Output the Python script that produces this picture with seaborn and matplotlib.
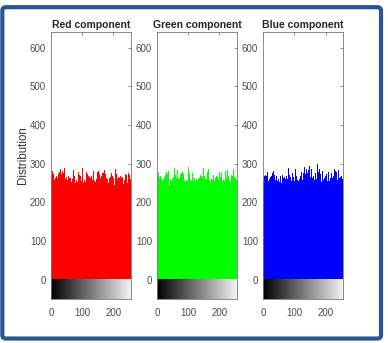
import matplotlib.pyplot as plt
import seaborn as sns
import numpy as np
import pandas as pd
from matplotlib.patches import FancyBboxPatch

# Histogram counts (256 intensity levels) per channel
red = [
    262, 271, 255, 268, 280, 259, 247, 266, 273, 261, 284, 258, 250, 270, 264, 277,
    256, 269, 243, 275, 262, 281, 254, 267, 272, 249, 263, 279, 258, 266, 285, 260,
    252, 274, 268, 257, 281, 263, 246, 270, 276, 259, 265, 288, 254, 268, 261, 273,
    249, 266, 279, 262, 257, 271, 283, 255, 268, 244, 273, 264, 278, 258, 262, 270,
    276, 253, 265, 280, 259, 248, 272, 267, 284, 261, 255, 269, 263, 277, 250, 266,
    271, 258, 286, 264, 252, 274, 268, 259, 279, 263, 247, 270, 275, 256, 267, 282,
    260, 254, 273, 266, 289, 258, 262, 271, 249, 276, 264, 257, 281, 268, 253, 270,
    265, 278, 251, 263, 274, 260, 287, 256, 268, 245, 272, 266, 279, 259, 263, 275,
    254, 269, 283, 261, 257, 273, 248, 266, 280, 262, 271, 255, 276, 264, 252, 285,
    267, 259, 274, 263, 278, 250, 269, 261, 282, 256, 266, 273, 248, 271, 264, 279,
    258, 267, 290, 262, 253, 275, 266, 260, 277, 251, 269, 284, 257, 264, 272, 246,
    270, 263, 279, 255, 268, 261, 286, 259, 250, 274, 267, 262, 281, 256, 265, 271,
    248, 276, 264, 258, 283, 269, 254, 272, 263, 278, 260, 245, 270, 266, 287, 257,
    263, 274, 252, 268, 279, 261, 256, 271, 265, 249, 282, 264, 258, 273, 267, 255,
    276, 262, 269, 251, 280, 266, 259, 272, 247, 263, 278, 257, 268, 260, 274, 253,
    265, 271, 258, 281, 262, 250, 269, 264, 277, 255, 261, 270, 249, 266, 259, 252,
]
green = [
    258, 266, 273, 251, 279, 262, 255, 270, 264, 283, 257, 268, 249, 275, 261, 272,
    267, 254, 281, 263, 259, 276, 248, 269, 265, 286, 256, 271, 262, 253, 278, 266,
    260, 274, 250, 268, 282, 257, 264, 271, 246, 277, 263, 259, 285, 268, 254, 270,
    275, 261, 256, 280, 265, 252, 273, 267, 289, 258, 263, 271, 249, 276, 262, 257,
    270, 283, 255, 266, 261, 278, 253, 269, 264, 287, 259, 272, 250, 267, 275, 262,
    256, 279, 268, 246, 273, 265, 260, 284, 257, 270, 263, 252, 281, 266, 258, 274,
    269, 255, 277, 262, 291, 259, 266, 251, 273, 268, 279, 257, 263, 285, 254, 270,
    262, 275, 298, 266, 258, 271, 249, 280, 264, 260, 276, 253, 268, 288, 261, 267,
    272, 256, 265, 282, 259, 248, 274, 266, 263, 279, 255, 270, 285, 260, 267, 252,
    277, 264, 258, 271, 289, 262, 254, 276, 268, 247, 273, 261, 283, 266, 259, 270,
    256, 278, 264, 251, 286, 269, 262, 274, 257, 280, 265, 253, 271, 292, 260, 267,
    275, 258, 263, 282, 249, 270, 266, 277, 255, 261, 288, 264, 272, 256, 268, 279,
    251, 265, 274, 260, 284, 257, 269, 263, 278, 248, 271, 266, 290, 259, 275, 262,
    267, 253, 280, 264, 270, 258, 286, 261, 255, 273, 266, 281, 250, 268, 263, 277,
    259, 284, 265, 272, 256, 269, 262, 291, 257, 274, 266, 252, 279, 263, 270, 282,
    261, 268, 275, 257, 264, 287, 259, 271, 266, 253, 278, 262, 269, 284, 258, 265,
]
blue = [
    263, 255, 272, 258, 267, 281, 252, 270, 261, 276, 249, 268, 264, 257, 279, 262,
    271, 254, 266, 283, 259, 247, 274, 265, 260, 278, 256, 269, 262, 251, 275, 267,
    258, 280, 264, 253, 271, 262, 286, 257, 266, 272, 248, 268, 261, 277, 255, 270,
    264, 259, 282, 266, 252, 274, 263, 269, 287, 258, 265, 250, 276, 262, 271, 256,
    280, 264, 257, 273, 266, 248, 278, 261, 269, 284, 255, 267, 262, 275, 259, 272,
    265, 289, 257, 263, 270, 252, 279, 266, 260, 274, 284, 256, 268, 262, 277, 291,
    258, 266, 273, 281, 255, 269, 264, 286, 260, 272, 250, 267, 278, 263, 258, 288,
    270, 256, 265, 283, 261, 274, 253, 268, 292, 259, 266, 279, 262, 271, 257, 285,
    264, 276, 258, 269, 290, 263, 255, 272, 281, 266, 260, 287, 254, 270, 275, 262,
    268, 283, 257, 264, 293, 259, 271, 266, 278, 252, 269, 285, 261, 274, 263, 256,
    280, 267, 262, 289, 258, 272, 265, 276, 251, 268, 284, 260, 273, 266, 298, 257,
    263, 279, 270, 255, 286, 262, 268, 274, 259, 291, 264, 253, 277, 266, 281, 260,
    271, 257, 284, 265, 262, 276, 250, 269, 288, 263, 258, 274, 267, 282, 256, 270,
    264, 279, 261, 289, 255, 268, 273, 262, 285, 258, 266, 277, 252, 271, 263, 280,
    259, 268, 275, 262, 287, 256, 270, 264, 281, 253, 267, 278, 261, 272, 258, 276,
    265, 283, 257, 269, 262, 274, 260, 271, 266, 279, 255, 268, 263, 273, 259, 262,
]
titles = ['Red component', 'Green component', 'Blue component']
colors = ['#ff0000', '#00ff00', '#0000ff']
y_ticks = [0, 100, 200, 300, 400, 500, 600]
x_ticks = [0, 100, 200]

sns.set_style('white')
plt.rcParams['font.family'] = ['Liberation Sans', 'DejaVu Sans']

fig = plt.figure(figsize=(3.88, 3.43), dpi=100)

# blue frame around the figure
frame = FancyBboxPatch((0.006, 0.013), 0.976, 0.966, boxstyle='round,pad=0,rounding_size=0.01',
                       transform=fig.transFigure, facecolor='white', edgecolor='#2b5592',
                       linewidth=3, zorder=-1)
fig.patches.append(frame)

lefts = [0.1314, 0.4046, 0.678]
gradient = np.linspace(0, 1, 256).reshape(1, -1)

for i, (vals, title, col) in enumerate(zip([red, green, blue], titles, colors)):
    ax = fig.add_axes([lefts[i], 0.1283, 0.206, 0.778])
    df = pd.DataFrame({'level': np.arange(len(vals)) + 0.5, 'count': vals})
    sns.histplot(data=df, x='level', weights='count', bins=256, binrange=(0, 256),
                 color=col, alpha=1, linewidth=0, ax=ax)
    ax.imshow(gradient, cmap='gray', vmax=1.05, aspect='auto', extent=(0, 256, -50, 0), zorder=3)
    ax.set_xlim(0, 256)
    ax.set_ylim(-50, 640)
    ax.set_yticks(y_ticks)
    ax.set_xticks(x_ticks)
    ax.set_title(title, fontsize=7.5, fontweight='bold', pad=3)
    ax.set_xlabel('')
    ax.set_ylabel('')
    ax.tick_params(direction='in', length=2.5, width=0.5, top=True, right=True,
                   labelsize=7, labelcolor='#4d4d4d', color='#666666')
    ax.tick_params(axis='y', pad=3.6)
    ax.tick_params(axis='x', pad=6.5)
    for s in ax.spines.values():
        s.set_color('#777777')
        s.set_linewidth(0.6)
        s.set_visible(True)
        s.set_zorder(4)
    if i == 0:
        ax.set_ylabel('Distribution', fontsize=8.3, color='#333333')
        ax.yaxis.set_label_coords(-0.27, 0.539)

fig.savefig('out.png', dpi=100)
